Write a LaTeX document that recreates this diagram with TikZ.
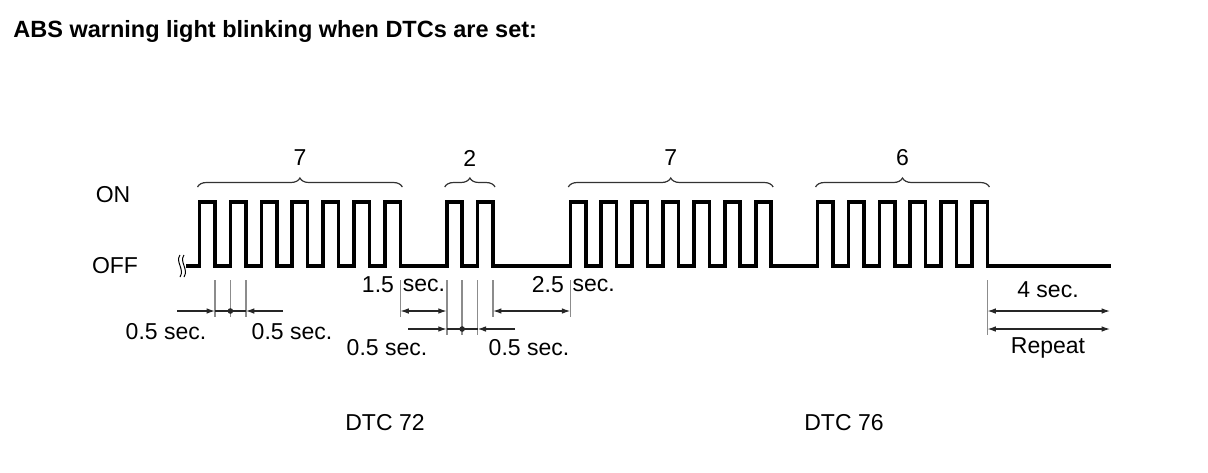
\documentclass[tikz,border=0pt]{standalone}
\usepackage{fontspec}
\setmainfont{Liberation Sans}
\usetikzlibrary{decorations.pathreplacing,arrows.meta}
\begin{document}
\begin{tikzpicture}[x=0.5pt,y=-0.5pt,
  sig/.style={line width=1.8pt, line join=miter},
  ext/.style={draw=black!45, line width=0.8pt},
  dim/.style={draw=black!85, line width=0.6pt},
  tipd/.style={-{Latex[length=4.2pt,width=2.8pt]}},
  both/.style={{Latex[length=4.2pt,width=2.8pt]}-{Latex[length=4.2pt,width=2.8pt]}},
  brc/.style={decorate, decoration={brace, amplitude=4.5pt}, line width=0.6pt, draw=black!80},
  lbl/.style={font=\fontsize{11.5}{13}\selectfont, inner sep=0pt},
  ttl/.style={font=\fontsize{11.75}{14}\selectfont\bfseries, inner sep=0pt},
]
\useasboundingbox (0,0) rectangle (1208,472);
\def\hh{15.45}
\def\xs{199.5}

% title and level labels
\node[ttl, anchor=west] (title) at (13,31) {ABS warning light blinking when DTCs are set:};
\node[lbl] (on) at (113,195) {ON};
\node[lbl] (off) at (115,266) {OFF};

% break symbol
\draw[line width=0.5pt] (180,255) .. controls (175,262) and (185,269) .. (180,277);
\draw[line width=0.5pt] (184,255) .. controls (179,262) and (189,269) .. (184,277);

% signal
\draw[sig] (186,266) -- (\xs,266)
  \foreach \k in {1,...,7}{ -- ++(0,-64) -- ++(\hh,0) -- ++(0,64) -- ++(\hh,0) }
  -- ++({2*\hh},0)
  \foreach \k in {1,2}{ -- ++(0,-64) -- ++(\hh,0) -- ++(0,64) -- ++(\hh,0) }
  -- ++({4*\hh},0)
  \foreach \k in {1,...,7}{ -- ++(0,-64) -- ++(\hh,0) -- ++(0,64) -- ++(\hh,0) }
  -- ++({2*\hh},0)
  \foreach \k in {1,...,6}{ -- ++(0,-64) -- ++(\hh,0) -- ++(0,64) -- ++(\hh,0) }
  -- ++({7*\hh},0);

% braces and counts
\draw[brc] ({\xs-2},187) -- ({\xs+13*\hh+2},187);
\draw[brc] ({\xs+16*\hh-2},187) -- ({\xs+19*\hh+2},187);
\draw[brc] ({\xs+24*\hh-2},187) -- ({\xs+37*\hh+2},187);
\draw[brc] ({\xs+40*\hh-2},187) -- ({\xs+51*\hh+2},187);
\node[lbl] (c1) at ({\xs+6.5*\hh},158) {7};
\node[lbl] (c2) at ({\xs+17.5*\hh},158) {2};
\node[lbl] (c3) at ({\xs+30.5*\hh},158) {7};
\node[lbl] (c4) at ({\xs+45.5*\hh},158) {6};

% extension lines
\foreach \n/\yb in {1/317,2/317,3/317,13/317,16/335,17/335,18/335,19/317,24/317,51/335}{
  \coordinate (e\n t) at ({\xs+\n*\hh},280);
  \coordinate (e\n b) at ({\xs+\n*\hh},\yb);
  \coordinate (e\n u) at ({\xs+\n*\hh},311);
  \coordinate (e\n l) at ({\xs+\n*\hh},329);
  \draw[ext] (e\n t) -- (e\n b);
}

% group 1 half-second dimensions
\coordinate (g1l) at (177,311);
\coordinate (g1r) at (283,311);
\draw[dim] (e1u) -- (e3u);
\draw[dim, tipd] (g1l) -- (e1u);
\draw[dim, tipd] (g1r) -- (e3u);
\fill[black!85] (e2u) circle (1.4pt);

% group 2 dimensions
\draw[dim, both] (e13u) -- (e16u);
\draw[dim, both] (e19u) -- (e24u);
\coordinate (g2l) at (408,329);
\coordinate (g2r) at (515,329);
\draw[dim] (e16l) -- (e18l);
\draw[dim, tipd] (g2l) -- (e16l);
\draw[dim, tipd] (g2r) -- (e18l);
\fill[black!85] (e17l) circle (1.4pt);

% repeat dimensions
\coordinate (r1) at (1110,311);
\coordinate (r2) at (1110,329);
\draw[dim, both] (e51u) -- (r1);
\draw[dim, both] (e51l) -- (r2);

% dimension labels
\node[lbl] (h1) at (166,332) {0.5 sec.};
\node[lbl] (h2) at (292,332) {0.5 sec.};
\node[lbl] (h3) at (387,348) {0.5 sec.};
\node[lbl] (h4) at (529,348) {0.5 sec.};
\node[lbl, anchor=east] (p15) at ({\xs+13*\hh-6},285) {1.5};
\node[lbl, anchor=west] (s15) at ({\xs+13*\hh+2},285) {sec.};
\node[lbl, anchor=east] (p25) at ({\xs+24*\hh-6},285) {2.5};
\node[lbl, anchor=west] (s25) at ({\xs+24*\hh+2},285) {sec.};
\node[lbl] (four) at (1048,290) {4 sec.};
\node[lbl] (rep) at (1048,348) {Repeat};

% DTC labels
\node[lbl] (d72) at (385,423) {DTC 72};
\node[lbl] (d76) at (844,423) {DTC 76};
\end{tikzpicture}
\end{document}
